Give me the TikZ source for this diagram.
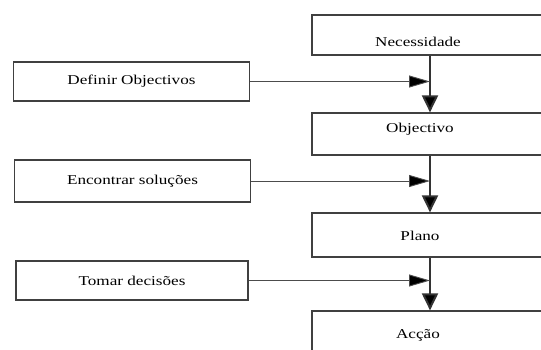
\documentclass[tikz,border=0pt]{standalone}
\usepackage{fontspec}
\setmainfont{Liberation Serif}[FakeStretch=1.27]
\usepackage{tikz}
\usetikzlibrary{arrows.meta,calc}

\tikzset{
  box/.style={draw=black!75, line width=1.2pt, rectangle, inner sep=0pt,
    font=\fontsize{13.5}{16}\selectfont},
  rbox/.style={box, minimum width=236pt},
  lbox/.style={box, minimum width=236pt, minimum height=39pt},
  down/.style={draw=black!80, line width=2pt, -{Triangle[length=17pt,width=16pt,fill=black]}},
  feed/.style={draw=black!70, line width=0.9pt, -{Triangle[length=21pt,width=12pt,fill=black]}}
}

\begin{document}
\begin{tikzpicture}[x=1pt,y=-1pt]
\useasboundingbox (0,0) rectangle (541,349);
\clip (0,0) rectangle (541,349);
% etapas
\node[rbox, minimum height=40pt,
  label={[name=needtxt, xshift=-12pt, yshift=-7pt, box, draw=none]center:Necessidade}] (need) at (430,35) {};
\node[rbox, minimum height=42pt,
  label={[name=objtxt, xshift=-10pt, yshift=5pt, box, draw=none]center:Objectivo}] (obj) at (430,134) {};
\node[rbox, minimum height=44pt,
  label={[name=planotxt, xshift=-10pt, yshift=-1pt, box, draw=none]center:Plano}] (plano) at (430,235) {};
\node[rbox, minimum height=44pt,
  label={[name=accaotxt, xshift=-12pt, yshift=-2pt, box, draw=none]center:Acção}] (accao) at (430,333) {};
% actividades
\node[lbox] (def) at (131.5,81.5) {Definir Objectivos};
\node[lbox, minimum height=42pt] (enc) at (132.5,181) {Encontrar soluções};
\node[lbox, minimum width=232pt] (tom) at (132,280.5) {Tomar decisões};

\draw[down] (need.south) -- (obj.north);
\draw[down] (obj.south) -- (plano.north);
\draw[down] (plano.south) -- (accao.north);

\draw[feed] (def.east) -- (def.east -| need.south);
\draw[feed] (enc.east) -- (enc.east -| obj.south);
\draw[feed] (tom.east) -- (tom.east -| plano.south);
\end{tikzpicture}
\end{document}
